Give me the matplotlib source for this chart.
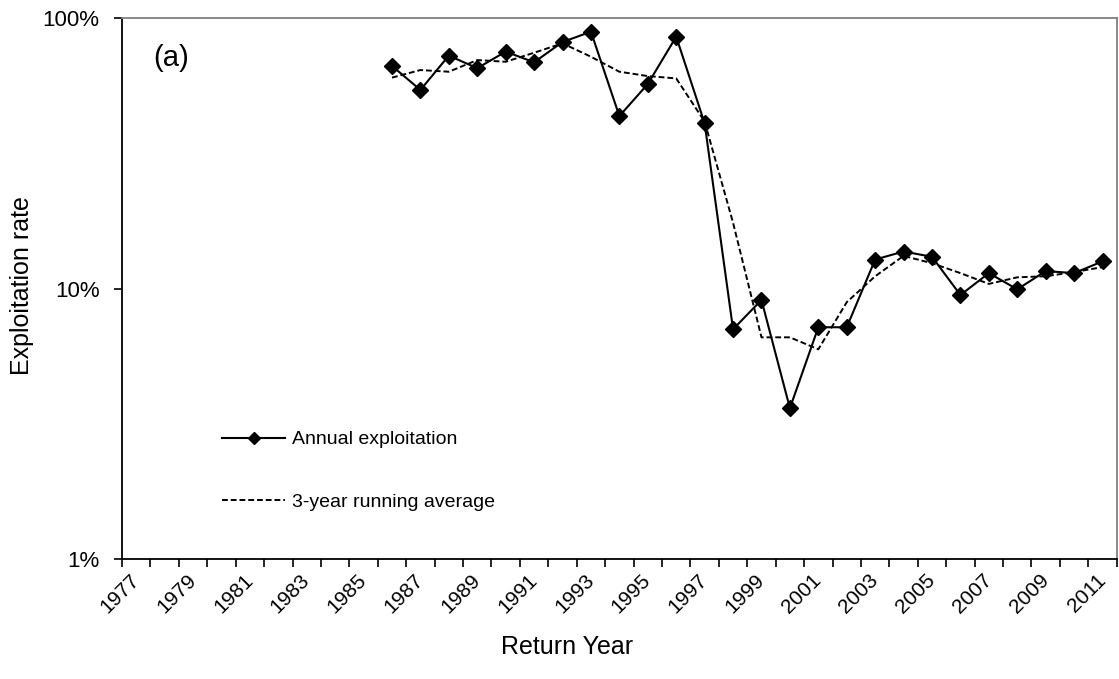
import numpy as np
import matplotlib

matplotlib.use("Agg")
import matplotlib.pyplot as plt
from matplotlib.ticker import FixedLocator, FuncFormatter, NullLocator

plt.rcParams["font.family"] = ["Liberation Sans", "DejaVu Sans"]

# category axis runs over all return years, data only from 1986
axis_years = np.arange(1977, 2012)
label_years = axis_years[::2]
data_years = np.arange(1986, 2012)

# exploitation rate, percent
annual = [66.5, 54.2, 72.6, 65.2, 75.1, 68.6, 81.5, 89.0, 43.4, 57.0, 85.3, 40.8, 7.07,
          9.07, 3.61, 7.19, 7.19, 12.8, 13.7, 13.1, 9.46, 11.4, 9.93, 11.6, 11.4, 12.6]
running_avg = [60.2, 64.2, 63.3, 69.9, 68.9, 74.4, 80.6, 71.9, 63.3, 61.0, 59.8, 41.4, 17.5,
               6.6, 6.6, 5.96, 8.9, 11.1, 13.2, 12.4, 11.4, 10.4, 11.0, 11.1, 11.5, 12.0]

fig = plt.figure(figsize=(11.19, 6.79), dpi=100)
ax = fig.add_axes([0.109, 0.1767, 0.889, 0.7968])

ax.plot(data_years, annual, color="black", lw=1.5, marker="D", ms=8.5,
        label="Annual exploitation")
ax.plot(data_years, running_avg, color="black", lw=1.4, ls=(0, (3, 1.5)),
        label="3-year running average")

ax.set_yscale("log")
ax.set_ylim(1, 100)
ax.set_xlim(axis_years[0] - 0.5, axis_years[-1] + 0.5)

ax.yaxis.set_major_locator(FixedLocator([1, 10, 100]))
ax.yaxis.set_minor_locator(NullLocator())
ax.yaxis.set_major_formatter(FuncFormatter(lambda v, _: f"{v:g}%"))
ax.tick_params(axis="y", which="major", direction="out", length=6, width=1.2,
               labelsize=16, pad=10)

# tick marks between categories, labels on odd-year centres
ax.xaxis.set_major_locator(FixedLocator(list(axis_years - 0.5) + [axis_years[-1] + 0.5]))
ax.xaxis.set_major_formatter(FuncFormatter(lambda v, _: ""))
ax.xaxis.set_minor_locator(FixedLocator(label_years))
ax.xaxis.set_minor_formatter(FuncFormatter(lambda v, _: f"{v:.0f}"))
ax.tick_params(axis="x", which="major", direction="out", length=6, width=1.2)
ax.tick_params(axis="x", which="minor", length=0, labelsize=15, pad=13)
for lab in ax.xaxis.get_minorticklabels():
    lab.set_rotation(45)
    lab.set_ha("right")
    lab.set_va("center")
    lab.set_rotation_mode("anchor")

for side in ("left", "bottom"):
    ax.spines[side].set_color("black")
    ax.spines[side].set_linewidth(1.3)
for side in ("top", "right"):
    ax.spines[side].set_color("#808080")
    ax.spines[side].set_linewidth(1.3)

ax.set_xlabel("Return Year", fontsize=18)
ax.xaxis.set_label_coords(0.447, -0.163)
ax.xaxis.label.set_va("center")
ax.set_ylabel("Exploitation rate", fontsize=18)
ax.yaxis.set_label_coords(-0.1, 0.506)
ax.yaxis.label.set_va("center")

ax.text(0.031, 0.926, "(a)", transform=ax.transAxes, fontsize=21, va="center", ha="left")

ax.legend(loc="center left", bbox_to_anchor=(0.101, 0.163), frameon=False, fontsize=14,
          borderaxespad=0, borderpad=0, handlelength=3.2, handletextpad=0.4,
          labelspacing=2.3, markerscale=0.75)

fig.savefig("out.png", dpi=100)
